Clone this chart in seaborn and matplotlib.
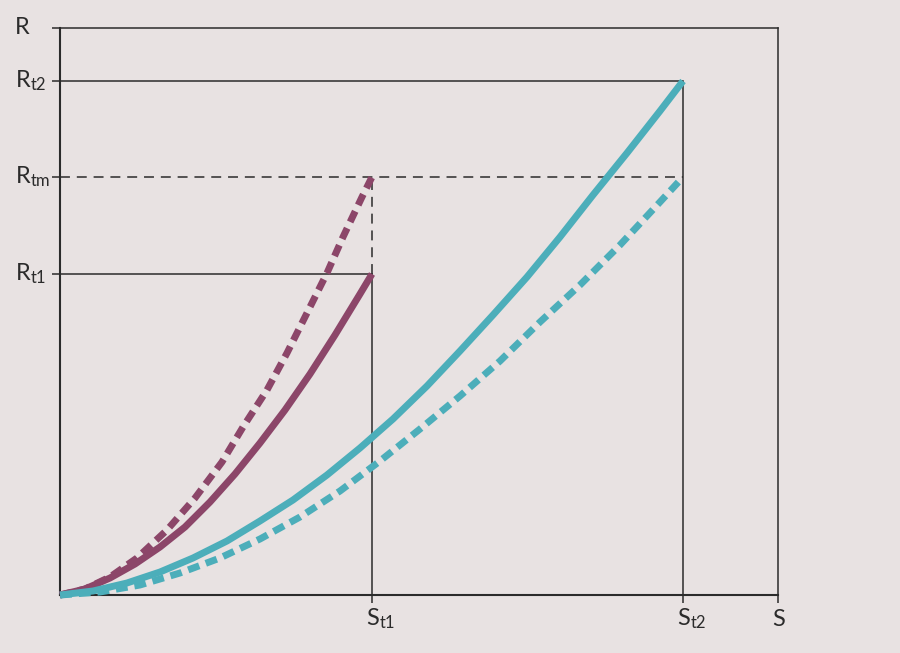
import numpy as np
import pandas as pd
import seaborn as sns
import matplotlib
matplotlib.use("Agg")
import matplotlib.pyplot as plt

# values (arbitrary units, origin at lower left)
s_max = 718
r_max = 567
s_t1 = 312
s_t2 = 623
r_t1 = 321
r_tm = 418
r_t2 = 514

# purple (short test) curves
p_solid_s = [0, 25, 50, 75, 100, 125, 150, 175, 200, 225, 250, 275, 300, 312]
p_solid_r = [0, 6, 17, 31, 48, 68, 93, 121, 152, 185, 221, 260, 301, 321]
p_dot_s = [0, 25, 50, 77, 107, 135, 162, 183, 207, 227, 247, 267, 283, 302, 312]
p_dot_r = [0, 6, 18, 37, 65, 97, 133, 168, 205, 242, 282, 322, 358, 398, 418]

# teal (long test) curves
t_solid_s = [0, 33, 67, 100, 133, 167, 200, 233, 267, 300, 333, 367, 400, 433, 467, 500, 533, 567, 600, 623]
t_solid_r = [0, 4, 12, 23, 37, 54, 74, 95, 120, 147, 176, 209, 244, 280, 318, 358, 400, 442, 484, 514]
t_dot_s = [0, 40, 80, 120, 160, 200, 240, 280, 320, 360, 400, 440, 480, 520, 560, 600, 623]
t_dot_r = [0, 3, 10, 22, 37, 56, 78, 104, 134, 166, 199, 234, 273, 310, 350, 393, 418]

r_ticks = [r_t1, r_tm, r_t2, r_max]
r_labels = [r"R$_{\mathrm{t1}}$", r"R$_{\mathrm{tm}}$", r"R$_{\mathrm{t2}}$", "R"]
s_ticks = [s_t1, s_t2, s_max]
s_labels = [r"S$_{\mathrm{t1}}$", r"S$_{\mathrm{t2}}$", "S"]

bg = "#e8e2e2"
purple = "#8c4669"
teal = "#4caeba"
ink = "#2b2b2b"

sns.set_theme(style="white")
plt.rcParams["font.family"] = ["Lato", "DejaVu Sans"]
plt.rcParams["mathtext.fontset"] = "custom"
plt.rcParams["mathtext.rm"] = "Lato"
plt.rcParams["mathtext.default"] = "regular"

fig = plt.figure(figsize=(9, 6.53), dpi=100, facecolor=bg)
ax = fig.add_axes([60 / 900, 1 - 595 / 653, 718 / 900, 567 / 653])
ax.set_facecolor(bg)
ax.set_xlim(0, s_max)
ax.set_ylim(0, r_max)

# reference lines
ref = dict(color=ink, linewidth=1.1, zorder=2)
dash = (0, (6.5, 4.5))
ax.plot([0, s_t2], [r_t2, r_t2], **ref)
ax.plot([0, s_t1], [r_t1, r_t1], **ref)
ax.plot([0, s_t2], [r_tm, r_tm], linestyle=dash, **ref)
ax.plot([s_t1, s_t1], [0, r_t1], **ref)
ax.plot([s_t1, s_t1], [r_t1, r_tm], linestyle=dash, **ref)
ax.plot([s_t2, s_t2], [0, r_t2], **ref)

# curves
dots = (0, (1.7, 1.0))
curves = [
    (p_dot_s, p_dot_r, purple, dots),
    (t_dot_s, t_dot_r, teal, dots),
    (p_solid_s, p_solid_r, purple, "-"),
    (t_solid_s, t_solid_r, teal, "-"),
]
for xs, ys, col, ls in curves:
    df = pd.DataFrame({"S": xs, "R": ys})
    sns.lineplot(data=df, x="S", y="R", ax=ax, color=col, linewidth=5,
                 linestyle=ls, solid_capstyle="butt", dash_capstyle="butt",
                 solid_joinstyle="round", clip_on=False, zorder=3)

# frame and ticks
for side in ["left", "bottom"]:
    ax.spines[side].set_linewidth(1.5)
    ax.spines[side].set_color(ink)
for side in ["top", "right"]:
    ax.spines[side].set_linewidth(1.1)
    ax.spines[side].set_color(ink)
ax.set_xticks(s_ticks, labels=[""] * len(s_ticks))
ax.set_yticks(r_ticks, labels=[""] * len(r_ticks))
ax.tick_params(axis="both", direction="out", length=5.5, width=1.1, color=ink,
               left=True, bottom=True)
ax.set_xlabel("")
ax.set_ylabel("")

for val, lab in zip(r_ticks, r_labels):
    ax.annotate(lab, xy=(0, val), xycoords=("axes fraction", "data"),
                xytext=(-32.4, 0), textcoords="offset points",
                ha="left", va="center", fontsize=17, color=ink)
for val, lab in zip(s_ticks, s_labels):
    ax.annotate(lab, xy=(val, 0), xycoords=("data", "axes fraction"),
                xytext=(-4.5, -22), textcoords="offset points",
                ha="left", va="baseline", fontsize=17, color=ink)

fig.savefig("out.png", dpi=100, facecolor=bg)
